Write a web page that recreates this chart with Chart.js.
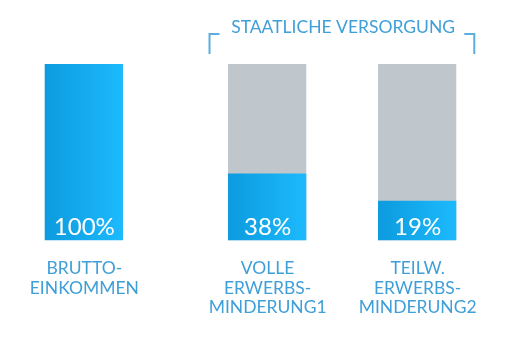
<!DOCTYPE html>
<html><head><meta charset="utf-8">
<script src="https://cdn.jsdelivr.net/npm/chart.js@4/dist/chart.umd.min.js"></script>
<style>html,body{margin:0;padding:0;background:#fff;}</style>
</head><body>
<canvas id="c" width="523" height="341"></canvas>
<script>
// ---- data ----
const categories = [['BRUTTO-', 'EINKOMMEN'], ['VOLLE', 'ERWERBS-', 'MINDERUNG1'], ['TEILW.', 'ERWERBS-', 'MINDERUNG2']];
const grossIncome = [100, null, null];          // Bruttoeinkommen (100 %)
const stateProvision = [null, 38, 22.5];        // staatliche Versorgung, bar heights as drawn
const grossReference = [null, 100, 100];        // grey background = 100 % gross income
const valueLabels = ['100%', '38%', '19%'];
const groupLabel = 'STAATLICHE VERSORGUNG';
const groupMembers = [1, 2];

const BLUE_L = '#0c9bde', BLUE_R = '#1cbafd', GREY = '#bfc7cc', TEXT = '#3f9fd8', LINE = '#5aaee0';
const FONT = 'Lato, "Open Sans", sans-serif';

const gradientBars = {
  id: 'gradientBars',
  beforeDatasetsDraw(chart) {
    const ctx = chart.ctx;
    chart.data.datasets.forEach((ds, di) => {
      if (!ds.useGradient) return;
      chart.getDatasetMeta(di).data.forEach(el => {
        const l = el.x - el.width / 2, r = el.x + el.width / 2;
        const g = ctx.createLinearGradient(l, 0, r, 0);
        g.addColorStop(0, BLUE_L); g.addColorStop(1, BLUE_R);
        el.options = Object.assign({}, el.options, {backgroundColor: g});
      });
    });
  }
};

function barFor(chart, i) {
  for (let di = 0; di < chart.data.datasets.length; di++) {
    const ds = chart.data.datasets[di];
    if (ds.useGradient && ds.data[i] !== null && ds.data[i] !== undefined) {
      return chart.getDatasetMeta(di).data[i];
    }
  }
  return null;
}

const annotations = {
  id: 'annotations',
  afterDatasetsDraw(chart) {
    const ctx = chart.ctx;
    const base = chart.scales.y.getPixelForValue(0);
    const top = chart.scales.y.getPixelForValue(100);
    ctx.save();
    ctx.textAlign = 'center';
    ctx.textBaseline = 'alphabetic';
    categories.forEach((lines, i) => {
      const el = barFor(chart, i);
      if (!el) return;
      ctx.fillStyle = '#ffffff';
      ctx.font = '400 24px ' + FONT;
      ctx.fillText(valueLabels[i], el.x + 0.5, base - 5.5);
      ctx.fillStyle = TEXT;
      ctx.font = '400 17.5px ' + FONT;
      lines.forEach((t, k) => ctx.fillText(t, el.x + 0.5, base + 33.5 + k * 19.5));
    });
    const a = barFor(chart, groupMembers[0]), b = barFor(chart, groupMembers[groupMembers.length - 1]);
    const left = a.x - a.width / 2 - 18.5, right = b.x + b.width / 2 + 18;
    const yTop = top - 30, yBot = top - 10;
    ctx.strokeStyle = LINE; ctx.lineWidth = 2;
    ctx.beginPath();
    ctx.moveTo(left, yBot); ctx.lineTo(left, yTop); ctx.lineTo(left + 10, yTop);
    ctx.moveTo(right, yBot); ctx.lineTo(right, yTop); ctx.lineTo(right - 10, yTop);
    ctx.stroke();
    ctx.fillStyle = TEXT;
    ctx.font = '400 17.5px ' + FONT;
    ctx.fillText(groupLabel, (a.x + b.x) / 2 + 1, top - 31);
    ctx.restore();
  }
};

new Chart(document.getElementById('c'), {
  type: 'bar',
  data: {
    labels: categories,
    datasets: [
      {label: 'Bruttoeinkommen', data: grossIncome, stack: 'gross', useGradient: true, backgroundColor: BLUE_R},
      {label: 'Staatliche Versorgung', data: stateProvision, stack: 'state', useGradient: true, backgroundColor: BLUE_R},
      {label: 'Bruttoeinkommen (Referenz)', data: grossReference, stack: 'state', backgroundColor: GREY}
    ]
  },
  options: {
    responsive: false,
    devicePixelRatio: 1,
    animation: false,
    categoryPercentage: 0.444,
    barPercentage: 2.35,
    layout: {padding: {left: 25.5, right: 47.5, top: 64, bottom: 100.5}},
    plugins: {legend: {display: false}, tooltip: {enabled: false}},
    scales: {
      x: {display: false},
      y: {display: false, min: 0, max: 100, stacked: false}
    }
  },
  plugins: [gradientBars, annotations]
});
</script>
</body></html>
